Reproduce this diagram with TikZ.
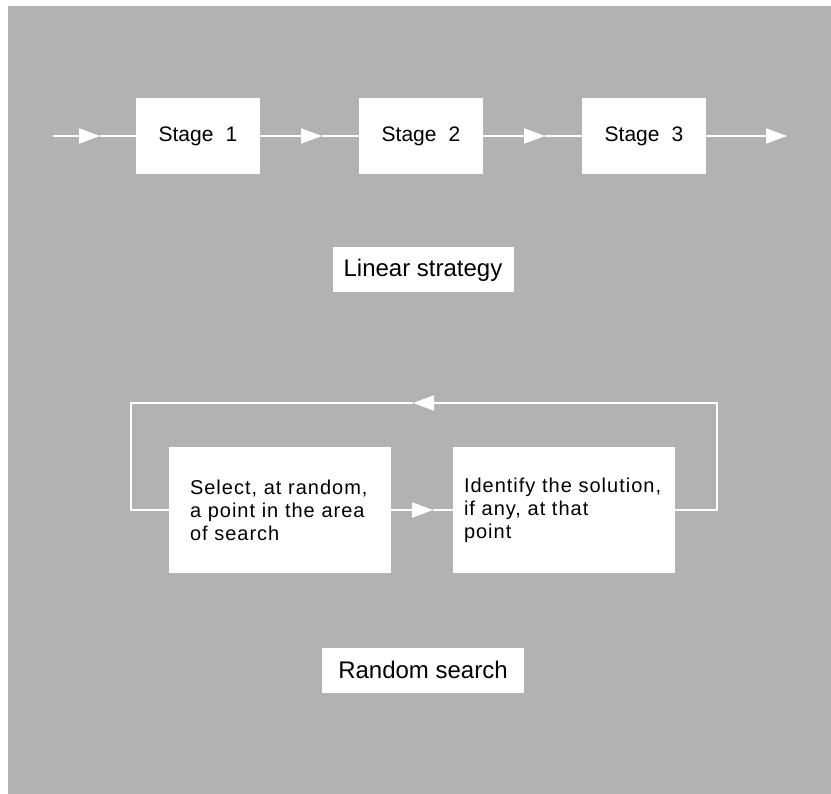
\documentclass[tikz,border=0pt]{standalone}
\usepackage{fontspec}
\setmainfont{Liberation Sans}
\newfontfamily\stepfont[LetterSpace=5]{Liberation Sans}
\usetikzlibrary{arrows.meta}
\definecolor{panel}{gray}{0.70}
\tikzset{
  wire/.style={draw=white, line width=2pt},
  tip/.style={wire, -{Triangle[length=21pt, width=15pt]}},
  stagebox/.style={fill=white, minimum width=124pt, minimum height=76pt, inner sep=0pt,
    font=\fontsize{21}{25}\selectfont},
  stepbox/.style={fill=white, minimum height=126pt, align=left, inner ysep=0pt,
    font=\stepfont\fontsize{20}{23}\selectfont},
  titlebox/.style={fill=white, minimum height=45pt, inner sep=0pt,
    font=\fontsize{24}{28}\selectfont}
}
\begin{document}
\begin{tikzpicture}[x=1pt, y=-1pt]
  \useasboundingbox (0,0) rectangle (831,794);
  \fill[panel] (8,6) rectangle (831,794);

  % linear strategy
  \node[stagebox] (s1) at (198,136) {Stage\hspace{0.3em} 1};
  \node[stagebox] (s2) at (421,136) {Stage\hspace{0.3em} 2};
  \node[stagebox] (s3) at (644,136) {Stage\hspace{0.3em} 3};
  \coordinate (in) at (53,136);
  \coordinate (out) at (787,136);
  \coordinate (t1) at (100,136);
  \coordinate (t2) at (322,136);
  \coordinate (t3) at (545,136);

  \draw[tip] (in) -- (t1);
  \draw[wire] (t1) -- (s1);
  \draw[tip] (s1) -- (t2);
  \draw[wire] (t2) -- (s2);
  \draw[tip] (s2) -- (t3);
  \draw[wire] (t3) -- (s3);
  \draw[tip] (s3) -- (out);

  \node[titlebox, minimum width=181pt] (lin) at (423,270) {Linear strategy};

  % random search
  \node[stepbox, text width=180pt, inner xsep=21pt] (sel) at (280,510)
    {Select, at random,\\a point in the area\\of search};
  \node[stepbox, text width=200pt, inner xsep=11pt] (ident) at (564,510)
    {Identify the solution,\\if any, at that\\point};
  \coordinate (t4) at (433,510);
  \coordinate (ne) at (717,403);
  \coordinate (nw) at (131,403);
  \coordinate (t5) at (413,403);

  \draw[tip] (sel) -- (t4);
  \draw[wire] (t4) -- (ident);
  \draw[tip] (ident.east) -| (ne) -- (t5);
  \draw[wire] (t5) -- (nw) |- (sel.west);

  \node[titlebox, minimum width=202pt] (rnd) at (423,670) {Random search};
\end{tikzpicture}
\end{document}
